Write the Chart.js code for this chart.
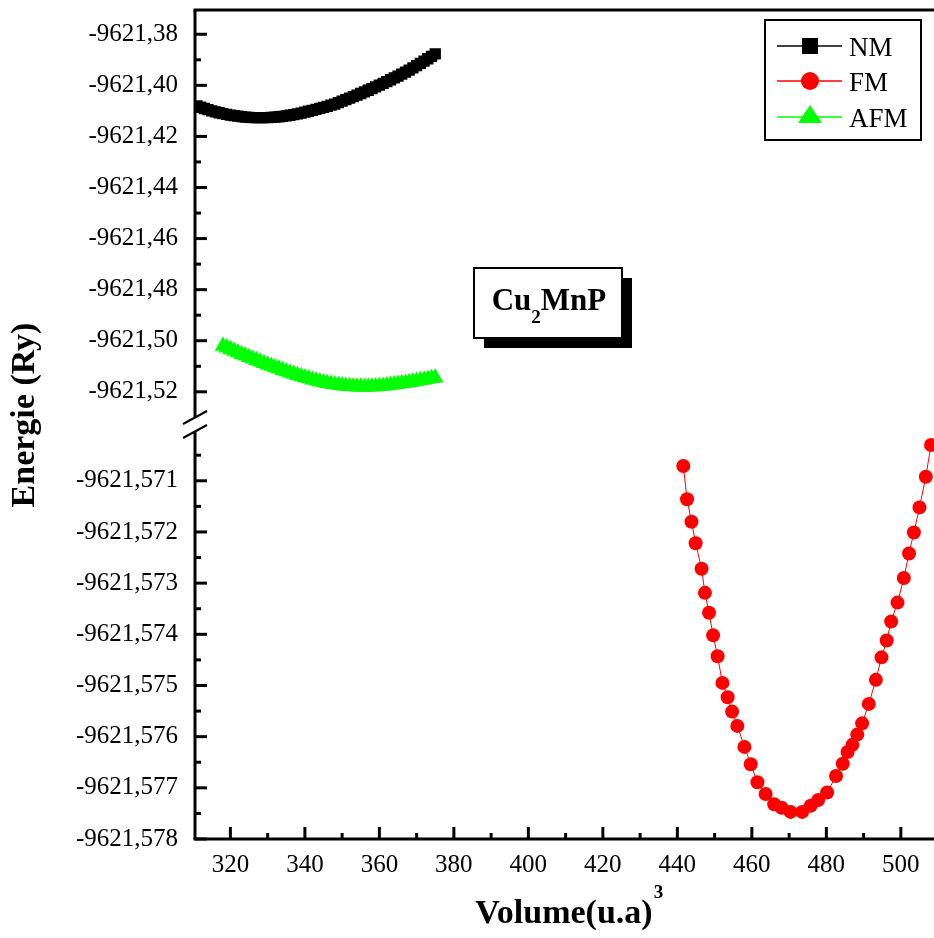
<!DOCTYPE html>
<html lang="fr">
<head>
<meta charset="UTF-8" />
<title>Cu2MnP - Energie en fonction du volume</title>
<script src="https://cdn.jsdelivr.net/npm/chart.js"></script>
<style>
  html, body { margin: 0; padding: 0; background: #fff; }
  #zone { width: 934px; height: 938px; }
</style>
</head>
<body>
<div id="zone"><canvas id="graphe" width="934" height="938"></canvas></div>
<script>
// --- donnees ---
const nmVolume = [311,312,313,314,315,316,317,318,319,320,321,322,323,324,325,326,327,328,329,330,
  331,332,333,334,335,336,337,338,339,340,341,342,343,344,345,346,347,348,349,350,
  351,352,353,354,355,356,357,358,359,360,361,362,363,364,365,366,367,368,369,370,
  371,372,373,374,375];
const nmEnergie = [-9621.40805,-9621.40857,-9621.40907,-9621.40953,-9621.40997,-9621.41037,-9621.41073,-9621.41107,-9621.41137,-9621.41165,
  -9621.41189,-9621.41209,-9621.41227,-9621.41241,-9621.41253,-9621.41261,-9621.41265,-9621.41267,-9621.41265,-9621.41261,
  -9621.41253,-9621.41243,-9621.41229,-9621.41213,-9621.41193,-9621.41171,-9621.41145,-9621.41117,-9621.41085,-9621.41051,
  -9621.41015,-9621.40978,-9621.40940,-9621.40901,-9621.40861,-9621.40820,-9621.40777,-9621.40732,-9621.40676,-9621.40619,
  -9621.40561,-9621.40502,-9621.40442,-9621.40381,-9621.40319,-9621.40256,-9621.40192,-9621.40126,-9621.40059,-9621.39991,
  -9621.39922,-9621.39852,-9621.39781,-9621.39709,-9621.39636,-9621.39561,-9621.39483,-9621.39402,-9621.39318,-9621.39231,
  -9621.39142,-9621.39051,-9621.38958,-9621.38863,-9621.38766];

const afmVolume = [318,319,320,321,322,323,324,325,326,327,328,329,330,331,332,333,334,335,336,337,
  338,339,340,341,342,343,344,345,346,347,348,349,350,351,352,353,354,355,356,357,
  358,359,360,361,362,363,364,365,366,367,368,369,370,371,372,373,374,375];
const afmEnergie = [-9621.50205,-9621.50270,-9621.50335,-9621.50399,-9621.50463,-9621.50526,-9621.50588,-9621.50649,-9621.50709,-9621.50768,
  -9621.50826,-9621.50883,-9621.50939,-9621.50994,-9621.51048,-9621.51101,-9621.51153,-9621.51204,-9621.51254,-9621.51303,
  -9621.51351,-9621.51397,-9621.51441,-9621.51483,-9621.51523,-9621.51561,-9621.51597,-9621.51631,-9621.51662,-9621.51690,
  -9621.51715,-9621.51737,-9621.51756,-9621.51772,-9621.51785,-9621.51795,-9621.51802,-9621.51806,-9621.51807,-9621.51805,
  -9621.51800,-9621.51792,-9621.51781,-9621.51768,-9621.51753,-9621.51736,-9621.51717,-9621.51696,-9621.51674,-9621.51651,
  -9621.51627,-9621.51602,-9621.51577,-9621.51551,-9621.51525,-9621.51499,-9621.51473,-9621.51447];

const fmVolume = [441.6,442.6,443.8,444.9,446.5,447.4,448.5,449.6,450.8,452.1,
  453.5,454.7,456.1,458.0,459.7,461.5,463.7,466.0,468.0,470.4,
  473.5,475.8,477.8,480.2,482.6,484.4,485.7,487.0,488.3,489.6,
  491.4,493.3,494.8,496.2,497.4,499.1,500.8,502.2,503.5,505.0,
  506.7,508.1];
const fmEnergie = [-9621.57071,-9621.57136,-9621.57180,-9621.57222,-9621.57272,-9621.57319,-9621.57358,-9621.57402,-9621.57443,-9621.57495,
  -9621.57523,-9621.57551,-9621.57579,-9621.57620,-9621.57654,-9621.57689,-9621.57712,-9621.57732,-9621.57739,-9621.57747,
  -9621.57747,-9621.57735,-9621.57724,-9621.57709,-9621.57677,-9621.57653,-9621.57630,-9621.57616,-9621.57596,-9621.57574,
  -9621.57536,-9621.57489,-9621.57445,-9621.57412,-9621.57375,-9621.57338,-9621.57290,-9621.57242,-9621.57201,-9621.57152,
  -9621.57092,-9621.57030];

// graduations
const xMajeurs = [320,340,360,380,400,420,440,460,480,500];
const xMineurs = [330,350,370,390,410,430,450,470,490];
const yHautMajeurs = [-9621.38,-9621.40,-9621.42,-9621.44,-9621.46,-9621.48,-9621.50,-9621.52];
const yHautMineurs = [-9621.39,-9621.41,-9621.43,-9621.45,-9621.47,-9621.49,-9621.51];
const yBasMajeurs = [-9621.571,-9621.572,-9621.573,-9621.574,-9621.575,-9621.576,-9621.577,-9621.578];
const yBasMineurs = [-9621.5705,-9621.5715,-9621.5725,-9621.5735,-9621.5745,-9621.5755,-9621.5765,-9621.5775];

const SERIF = "'Liberation Serif', 'Times New Roman', serif";

function points(vx, vy) {
  return vx.map((v, i) => ({x: v, y: vy[i]}));
}

// axes, legende et cadre "Cu2MnP" dessines a la main
const habillage = {
  id: 'habillage',
  afterDraw(chart) {
    const ctx = chart.ctx;
    const a = chart.chartArea;
    const sx = chart.scales.x, yH = chart.scales.yHaut, yB = chart.scales.yBas;
    const coupure = yH.bottom;

    function trait(x1, y1, x2, y2) {
      ctx.beginPath(); ctx.moveTo(x1, y1); ctx.lineTo(x2, y2); ctx.stroke();
    }

    ctx.save();
    ctx.strokeStyle = '#000';
    ctx.lineWidth = 3;
    trait(a.left - 1.5, a.top, a.right, a.top);
    trait(a.left - 1.5, a.bottom, a.right, a.bottom);
    trait(a.left, a.top, a.left, coupure - 7);
    trait(a.left, coupure + 7, a.left, a.bottom);

    // graduations vers l'interieur
    yHautMajeurs.forEach(v => { const p = yH.getPixelForValue(v); trait(a.left, p, a.left + 12, p); });
    yHautMineurs.forEach(v => { const p = yH.getPixelForValue(v); trait(a.left, p, a.left + 6, p); });
    yBasMajeurs.forEach(v => { const p = yB.getPixelForValue(v); trait(a.left, p, a.left + 12, p); });
    yBasMineurs.forEach(v => { const p = yB.getPixelForValue(v); trait(a.left, p, a.left + 6, p); });
    xMajeurs.forEach(v => { const p = sx.getPixelForValue(v); trait(p, a.bottom, p, a.bottom - 12); });
    xMineurs.forEach(v => { const p = sx.getPixelForValue(v); trait(p, a.bottom, p, a.bottom - 6); });

    // marque de coupure de l'axe
    ctx.lineWidth = 2;
    trait(a.left - 12, coupure - 7 + 6.5, a.left + 12, coupure - 7 - 6.5);
    trait(a.left - 12, coupure + 7 + 6.5, a.left + 12, coupure + 7 - 6.5);

    // legende
    ctx.lineWidth = 2;
    ctx.fillStyle = '#fff';
    ctx.fillRect(765, 20, 156, 120);
    ctx.strokeRect(765, 20, 156, 120);
    const lignes = [46, 81, 117];
    chart.data.datasets.forEach((ds, i) => {
      const y = lignes[i];
      ctx.strokeStyle = ds.borderColor;
      ctx.fillStyle = ds.backgroundColor;
      ctx.lineWidth = 1.5;
      trait(777, y, 842, y);
      ctx.beginPath();
      if (ds.pointStyle === 'rect') {
        ctx.rect(802, y - 8, 16, 16);
      } else if (ds.pointStyle === 'circle') {
        ctx.arc(810, y, 9, 0, Math.PI * 2);
      } else {
        ctx.moveTo(810, y - 12);
        ctx.lineTo(822, y + 6);
        ctx.lineTo(798, y + 6);
        ctx.closePath();
      }
      ctx.fill();
      ctx.fillStyle = '#000';
      ctx.font = '27px ' + SERIF;
      ctx.textAlign = 'left';
      ctx.textBaseline = 'alphabetic';
      ctx.fillText(ds.label, 849, y + 10);
    });

    // cadre du compose
    ctx.fillStyle = '#000';
    ctx.fillRect(484, 278, 148, 70);
    ctx.fillStyle = '#fff';
    ctx.fillRect(474, 268, 148, 70);
    ctx.strokeStyle = '#000';
    ctx.lineWidth = 2;
    ctx.strokeRect(474, 268, 148, 70);
    ctx.fillStyle = '#000';
    ctx.textBaseline = 'alphabetic';
    ctx.font = 'bold 31px ' + SERIF;
    const w1 = ctx.measureText('Cu').width, w3 = ctx.measureText('MnP').width;
    ctx.font = 'bold 19px ' + SERIF;
    const w2 = ctx.measureText('2').width;
    let px = 549 - (w1 + w2 + w3) / 2;
    ctx.font = 'bold 31px ' + SERIF;
    ctx.fillText('Cu', px, 310);
    ctx.font = 'bold 19px ' + SERIF;
    ctx.fillText('2', px + w1, 323);
    ctx.font = 'bold 31px ' + SERIF;
    ctx.fillText('MnP', px + w1 + w2, 310);

    // titres des axes
    ctx.font = 'bold 34px ' + SERIF;
    const wt = ctx.measureText('Volume(u.a)').width;
    const tx = 564 - wt / 2;
    ctx.fillText('Volume(u.a)', tx, 923);
    ctx.font = 'bold 19px ' + SERIF;
    ctx.fillText('3', tx + wt + 1, 898);

    ctx.translate(34, 415);
    ctx.rotate(-Math.PI / 2);
    ctx.font = 'bold 34px ' + SERIF;
    ctx.textAlign = 'center';
    ctx.fillText('Energie (Ry)', 0, 0);
    ctx.restore();
  }
};

Chart.defaults.color = '#000';

new Chart(document.getElementById('graphe'), {
  type: 'line',
  data: {
    datasets: [
      {
        label: 'NM', data: points(nmVolume, nmEnergie), yAxisID: 'yHaut',
        borderColor: '#000', backgroundColor: '#000', borderWidth: 1,
        pointStyle: 'rect', pointRadius: 8, pointBorderWidth: 0, tension: 0
      },
      {
        label: 'FM', data: points(fmVolume, fmEnergie), yAxisID: 'yBas',
        borderColor: '#ff0000', backgroundColor: '#ff0000', borderWidth: 1,
        pointStyle: 'circle', pointRadius: 7, pointBorderWidth: 0, tension: 0
      },
      {
        label: 'AFM', data: points(afmVolume, afmEnergie), yAxisID: 'yHaut',
        borderColor: '#00ff00', backgroundColor: '#00ff00', borderWidth: 1,
        pointStyle: 'triangle', pointRadius: 9.5, pointBorderWidth: 0, tension: 0
      }
    ]
  },
  options: {
    responsive: false,
    devicePixelRatio: 1,
    animation: false,
    layout: { autoPadding: false, padding: { top: 10, left: 0, right: 0, bottom: 0 } },
    plugins: { legend: { display: false }, tooltip: { enabled: false } },
    scales: {
      x: {
        type: 'linear', position: 'bottom', min: 310.5, max: 508.9,
        grid: { display: false }, border: { display: false },
        afterBuildTicks: s => { s.ticks = xMajeurs.map(v => ({ value: v })); },
        ticks: { font: { family: SERIF, size: 25 }, padding: 3, maxRotation: 0, autoSkip: false,
                 callback: v => String(v) },
        afterFit: s => { s.height = 99; s.paddingLeft = 0; s.paddingRight = 0; }
      },
      yBas: {
        type: 'linear', position: 'left', stack: 'energie', stackWeight: 1,
        min: -9621.578, max: -9621.5699,
        grid: { display: false }, border: { display: false },
        afterBuildTicks: s => { s.ticks = yBasMajeurs.map(v => ({ value: v })); },
        ticks: { font: { family: SERIF, size: 25 }, padding: 9, autoSkip: false,
                 callback: v => v.toFixed(3).replace('.', ',') },
        afterFit: s => { s.width = 195; s.paddingTop = 0; s.paddingBottom = 0; }
      },
      yHaut: {
        type: 'linear', position: 'left', stack: 'energie', stackWeight: 1,
        min: -9621.5328, max: -9621.3705,
        grid: { display: false }, border: { display: false },
        afterBuildTicks: s => { s.ticks = yHautMajeurs.map(v => ({ value: v })); },
        ticks: { font: { family: SERIF, size: 25 }, padding: 9, autoSkip: false,
                 callback: v => v.toFixed(2).replace('.', ',') },
        afterFit: s => { s.width = 195; s.paddingTop = 0; s.paddingBottom = 0; }
      }
    }
  },
  plugins: [habillage]
});
</script>
</body>
</html>
